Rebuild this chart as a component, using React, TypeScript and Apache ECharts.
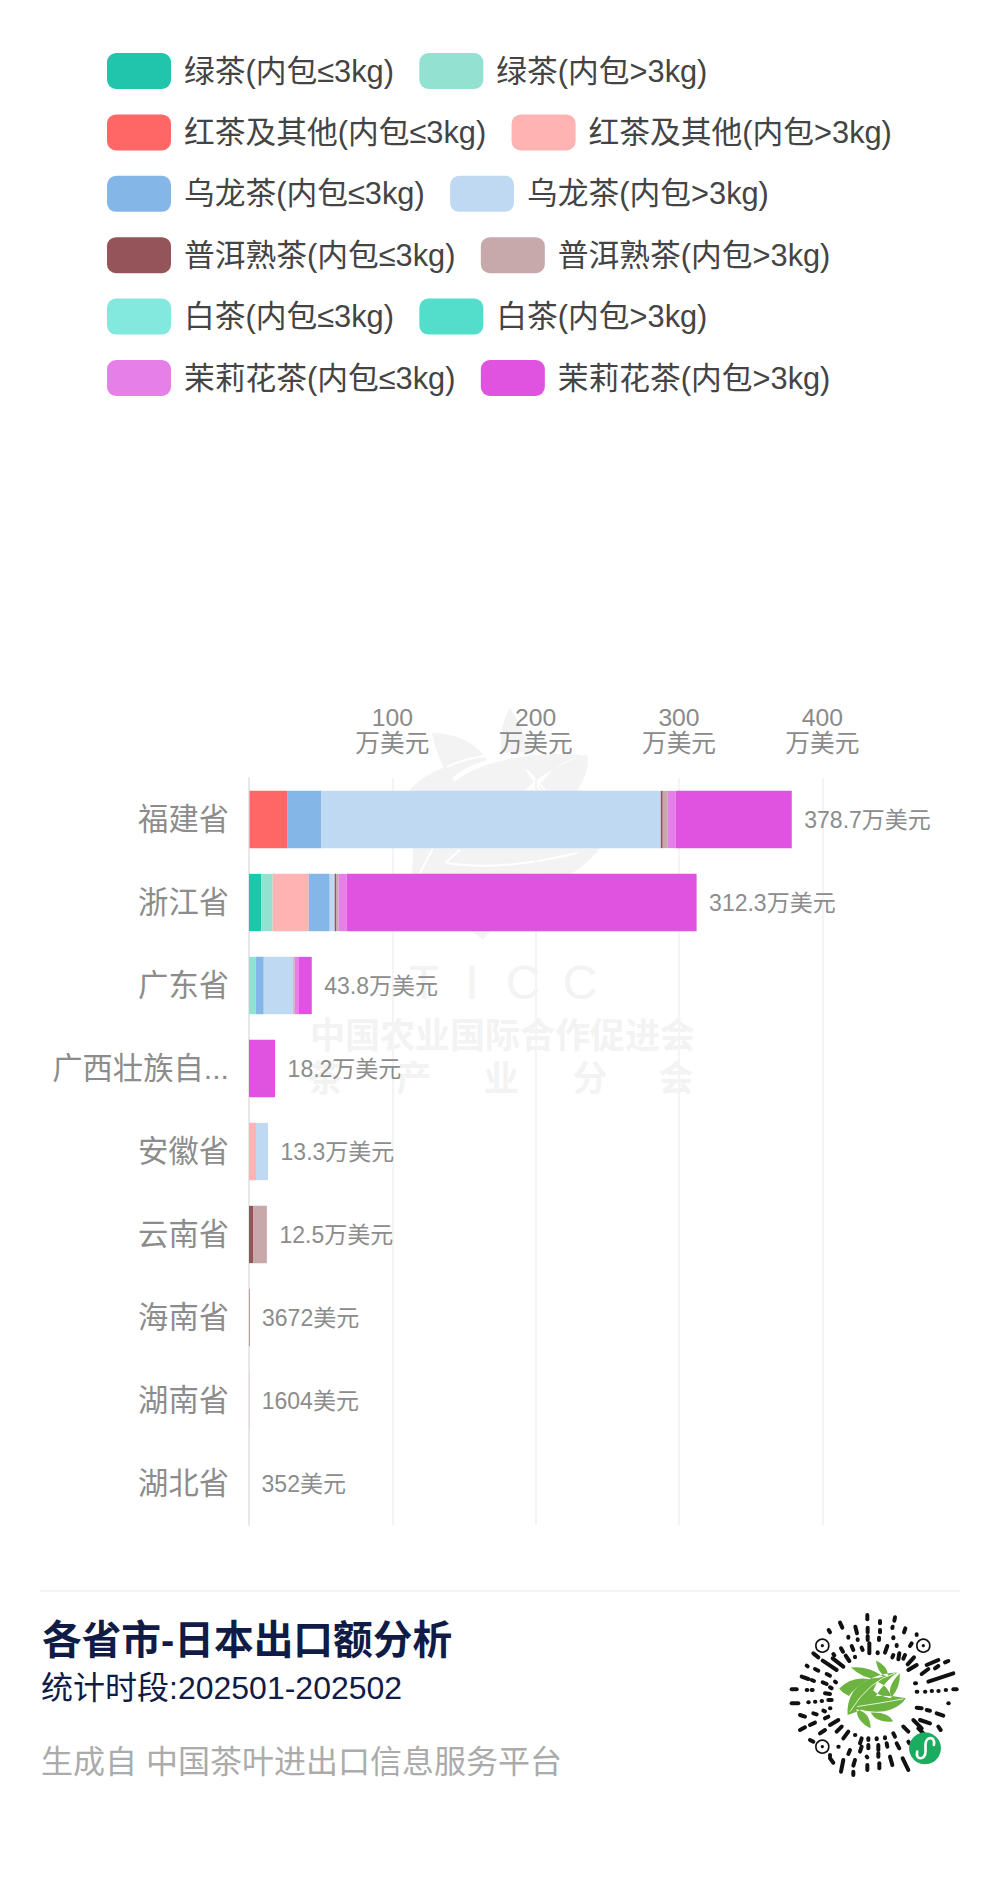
import React, { useEffect, useRef } from "react";
import * as echarts from "echarts";

const FONT = '"Liberation Sans", "Noto Sans CJK SC", sans-serif';

const provinces = ["福建省", "浙江省", "广东省", "广西壮族自治区", "安徽省", "云南省", "海南省", "湖南省", "湖北省"];
const totalLabels = ["378.7万美元", "312.3万美元", "43.8万美元", "18.2万美元", "13.3万美元", "12.5万美元", "3672美元", "1604美元", "352美元"];
const xTicks = [0, 100, 200, 300, 400];

const seriesNames = [
  "绿茶(内包≤3kg)", "绿茶(内包>3kg)",
  "红茶及其他(内包≤3kg)", "红茶及其他(内包>3kg)",
  "乌龙茶(内包≤3kg)", "乌龙茶(内包>3kg)",
  "普洱熟茶(内包≤3kg)", "普洱熟茶(内包>3kg)",
  "白茶(内包≤3kg)", "白茶(内包>3kg)",
  "茉莉花茶(内包≤3kg)", "茉莉花茶(内包>3kg)",
];
const seriesColors = [
  "#21c5ab", "#93e2d1", "#ff6666", "#ffb3b3", "#85b6e8", "#c0d9f2",
  "#94545a", "#c8a9ab", "#83e8de", "#52decb", "#e680e8", "#e053e0",
];

const greenSmall = [0, 8.6, 0, 0, 0, 0, 0, 0, 0];
const greenLarge = [0.5, 7.9, 4.7, 0, 0, 0, 0, 0, 0];
const redSmall = [26.5, 0, 0, 0, 0, 0, 0, 0, 0];
const redLarge = [0, 25.2, 0, 0, 4.9, 0, 0, 0, 0];
const oolongSmall = [23.5, 14.6, 5.6, 0, 0, 0, 0, 0, 0];
const oolongLarge = [236.8, 3.5, 20.6, 0, 8.4, 0, 0, 0, 0];
const puerSmall = [1.4, 0.9, 0, 0, 0, 2.8, 0.3672, 0, 0];
const puerLarge = [3.5, 1.9, 1.0, 0, 0, 9.7, 0, 0.1604, 0.0352];
const whiteSmall = [0, 0, 0, 0, 0, 0, 0, 0, 0];
const whiteLarge = [0, 0, 0, 0, 0, 0, 0, 0, 0];
const jasmineSmall = [5.6, 5.6, 3.0, 0, 0, 0, 0, 0, 0];
const jasmineLarge = [80.9, 244.1, 8.9, 18.2, 0, 0, 0, 0, 0];
const seriesValues = [
  greenSmall, greenLarge, redSmall, redLarge, oolongSmall, oolongLarge,
  puerSmall, puerLarge, whiteSmall, whiteLarge, jasmineSmall, jasmineLarge,
];
const totalsCarrier = [0, 0, 0, 0, 0, 0, 0, 0, 0];

const watermarkBody =
  "M510,708 C500,725 499,745 503,756 C520,752 527,752 530,752 C525,735 518,720 510,708Z " +
  "M432,733 C458,733 478,745 487,760 C470,765 458,772 450,780 C442,765 435,750 432,733Z " +
  "M408,792 C420,778 435,770 447,767 C450,772 452,778 455,783 L445,792Z " +
  "M445,790 C470,765 510,752 585,754 C560,765 540,775 525,790Z " +
  "M587,755 C575,757 555,765 548,775 L535,790 L577,790 C585,780 590,765 587,755Z " +
  "M412,874 L416,790 L580,790 L600,848 C595,855 580,870 570,874 L490,931 L483,940 L472,931Z";
const watermarkVeins =
  "M420,873 L433,848 M445,863 L460,850 M447,863 C490,870 540,862 577,853 " +
  "M447,767 C470,755 510,750 585,754 M540,790 L527,770 L545,790";
echarts.graphic.registerShape("wmBody", echarts.graphic.extendPath(watermarkBody, {}));
echarts.graphic.registerShape("wmVeins", echarts.graphic.extendPath(watermarkVeins, {}));

const qrLeaves =
  "M213,203 Q265,198 310,230 Q262,248 213,203Z " +
  "M288,182 Q325,198 325,230 Q296,228 288,182Z " +
  "M352,218 Q268,222 220,275 Q200,308 203,345 Q258,330 288,288 Q318,242 352,218Z " +
  "M178,266 Q215,228 268,238 Q225,262 207,288 Q188,280 178,266Z " +
  "M360,220 Q362,262 335,292 Q318,262 360,220Z " +
  "M292,245 Q330,262 334,295 Q298,290 280,272Z " +
  "M378,295 Q300,280 252,296 Q232,310 226,324 Q290,345 335,328 Q365,316 378,295Z " +
  "M230,328 Q272,338 272,385 Q230,365 230,328Z " +
  "M272,338 Q325,335 340,364 Q292,372 272,338Z";
const qrVeins = "M345,220 Q270,240 210,335 M370,297 Q300,310 232,320";
const qrMark = "M412,455 C405,482 437,482 437,455 L437,435 C437,408 468,408 462,435";
echarts.graphic.registerShape("qrLeaves", echarts.graphic.extendPath(qrLeaves, {}));
echarts.graphic.registerShape("qrVeins", echarts.graphic.extendPath(qrVeins, {}));
echarts.graphic.registerShape("qrMark", echarts.graphic.extendPath(qrMark, {}));

// Dashes of the mini-program code, in a 570-wide local frame.
const qrDashes = [
  [262,45,262,58],[345,52,343,62],[180,68,187,83],[300,63,300,70],[146,90,150,97],[226,80,231,100],
  [263,83,263,97],[338,80,337,84],[376,85,372,97],[300,90,300,97],[410,103,410,105],[205,110,205,113],
  [233,118,233,120],[263,108,263,120],[297,113,297,120],[340,112,340,115],[395,130,390,138],[350,135,350,138],
  [183,145,189,155],[215,138,220,150],[268,130,268,160],[322,138,315,158],[245,143,248,150],[100,160,115,172],
  [160,162,163,166],[375,165,370,176],[340,165,337,172],[293,157,293,160],[225,170,225,172],[197,167,208,183],
  [128,182,170,210],[158,175,190,200],[402,172,383,193],[358,160,355,178],[440,195,475,180],[495,187,505,183],
  [385,210,410,195],[425,222,445,207],[445,245,520,220],[465,205,475,198],[80,197,83,199],[105,207,115,212],
  [140,222,150,227],[65,230,85,237],[95,240,102,243],[128,247,140,252],[165,245,168,247],[150,262,155,265],
  [35,268,50,268],[80,270,82,270],[95,270,98,270],[135,280,150,282],[405,250,408,250],[410,275,412,275],
  [435,275,436,275],[455,273,456,273],[475,273,476,273],[497,270,498,270],[520,268,530,268],[35,310,55,310],
  [85,307,86,307],[105,305,106,305],[125,303,126,303],[145,300,155,300],[410,323,425,325],[440,330,450,332],
  [470,340,490,347],[505,310,506,310],[420,360,450,370],[60,345,75,350],[100,340,110,343],[130,332,135,334],
  [150,325,151,325],[135,355,145,350],[60,390,75,382],[90,375,105,368],[120,400,135,390],[150,375,175,360],
  [170,395,185,380],[190,415,205,395],[225,405,226,405],[245,415,240,430],[265,415,265,420],[290,415,290,418],
  [315,412,315,415],[340,400,345,410],[370,380,385,395],[400,360,425,385],[90,420,100,425],[175,440,176,440],
  [210,450,205,462],[245,440,240,455],[265,435,265,445],[295,435,295,450],[320,430,322,440],[350,430,358,445],
  [385,425,388,430],[150,475,160,488],[190,480,183,515],[225,480,220,497],[260,470,262,472],[262,495,262,510],
  [298,490,298,505],[330,470,337,495],[368,475,385,510],[220,515,220,525],[475,380,482,390],[415,385,430,400],
  [295,460,295,470],[150,465,150,468],
];
const qrFinders = [[127,137],[430,137],[127,440]];
const toQrX = (v: number) => 780 + v / 3;
const toQrY = (v: number) => 1600 + v / 3;

const watermarkMid = ["中", "国", "农", "业", "国", "际", "合", "作", "促", "进", "会"];
const watermarkLow = [["茶", 325], ["产", 414], ["业", 501], ["分", 590], ["会", 676]] as [string, number][];
const watermarkLetters = [["T", 424], ["I", 472], ["C", 523], ["C", 580]] as [string, number][];

function txt(text: string, x: number, y: number, font: string, fill: string, extra: any = {}) {
  return {
    type: "text",
    z: extra.z ?? 5,
    style: { text, x, y, font, fill, align: extra.align ?? "left", verticalAlign: "middle", textAlign: extra.align ?? "left", textVerticalAlign: "middle" },
  };
}

function buildGraphic() {
  const g: any[] = [];
  const wm = "#f3f3f3";
  g.push({ type: "wmBody", x: 0, y: 0, z: -10, style: { fill: wm } });
  g.push({ type: "wmVeins", x: 0, y: 0, z: -9, style: { fill: "none", stroke: "#ffffff", lineWidth: 2 } });
  watermarkLetters.forEach(([c, x]) => g.push(txt(c, x, 982, `300 48px ${FONT}`, wm, { align: "center", z: -10 })));
  watermarkMid.forEach((c, i) => g.push(txt(c, 327.5 + i * 35, 1035, `bold 35px ${FONT}`, wm, { align: "center", z: -10 })));
  watermarkLow.forEach(([c, x]) => g.push(txt(c, x, 1078, `bold 35px ${FONT}`, wm, { align: "center", z: -10 })));

  g.push({ type: "line", z: 5, shape: { x1: 40, y1: 1591, x2: 960, y2: 1591 }, style: { stroke: "#f3f3f3", lineWidth: 2 } });
  g.push(txt("各省市-日本出口额分析", 42, 1640, `bold 39.7px ${FONT}`, "#101c45"));
  g.push(txt("统计时段:202501-202502", 41, 1688, `32px ${FONT}`, "#101c45"));
  g.push(txt("生成自 中国茶叶进出口信息服务平台", 41, 1762, `32px ${FONT}`, "#ababab"));

  qrDashes.forEach(([a, b, c, d]) =>
    g.push({
      type: "line", z: 5,
      shape: { x1: toQrX(a), y1: toQrY(b), x2: toQrX(c), y2: toQrY(d) },
      style: { stroke: "#111111", lineWidth: 4, lineCap: "round" },
    })
  );
  qrFinders.forEach(([a, b]) => {
    g.push({ type: "circle", z: 5, shape: { cx: toQrX(a), cy: toQrY(b), r: 6.5 }, style: { fill: "none", stroke: "#111111", lineWidth: 1.6 } });
    g.push({ type: "circle", z: 5, shape: { cx: toQrX(a), cy: toQrY(b), r: 1.6 }, style: { fill: "#111111" } });
  });
  const qrT = { x: 780, y: 1600, scaleX: 1 / 3, scaleY: 1 / 3, z: 5 };
  g.push({ type: "qrLeaves", ...qrT, style: { fill: "#6cb33f" } });
  g.push({ type: "qrVeins", ...qrT, z: 6, style: { fill: "none", stroke: "#e4f2d8", lineWidth: 3 } });
  g.push({ type: "circle", z: 5, shape: { cx: toQrX(435), cy: toQrY(445), r: 16 }, style: { fill: "#1aad5f" } });
  g.push({ type: "qrMark", ...qrT, z: 6, style: { fill: "none", stroke: "#ffffff", lineWidth: 8, lineCap: "round" } });
  return g;
}

export default function App() {
  const ref = useRef<HTMLDivElement>(null);
  useEffect(() => {
    document.body.style.margin = "0";
    const chart = echarts.init(ref.current!, undefined, { renderer: "svg" });
    const barSeries = seriesNames.map((name, i) => ({
      name,
      type: "bar",
      stack: "total",
      barWidth: 57.3,
      data: seriesValues[i],
      itemStyle: { color: seriesColors[i] },
      emphasis: { disabled: true },
    }));
    chart.setOption({
      animation: false,
      backgroundColor: "#ffffff",
      textStyle: { fontFamily: FONT },
      legend: {
        left: 107,
        top: 53,
        width: 840,
        padding: 0,
        data: seriesNames,
        icon: "roundRect",
        itemWidth: 64,
        itemHeight: 36,
        itemGap: 25.4,
        selectedMode: false,
        textStyle: { fontSize: 30.75, color: "#444444", fontFamily: FONT, padding: [0, 3.8, 0, 8] },
      },
      grid: { left: 249, top: 778, width: 573.3, height: 747, containLabel: false },
      xAxis: {
        type: "value",
        position: "top",
        min: 0,
        max: 400,
        interval: 100,
        axisLine: { show: false },
        axisTick: { show: false },
        splitLine: { show: true, lineStyle: { color: "#f4f4f4", width: 2 } },
        axisLabel: {
          margin: 22,
          fontSize: 24.7,
          lineHeight: 26,
          color: "#8a8a8a",
          fontFamily: FONT,
          customValues: xTicks,
          formatter: (v: number) => (v === 0 ? "" : `${v}\n万美元`),
        },
      },
      yAxis: {
        type: "category",
        inverse: true,
        data: provinces,
        axisLine: { show: true, lineStyle: { color: "#e8e8e8", width: 2 } },
        axisTick: { show: false },
        axisLabel: {
          margin: 20,
          fontSize: 30.3,
          color: "#8c8c8c",
          fontFamily: FONT,
          width: 184,
          overflow: "truncate",
          ellipsis: "...",
        },
      },
      series: [
        ...barSeries,
        {
          name: "合计",
          type: "bar",
          stack: "total",
          barWidth: 57.3,
          data: totalsCarrier,
          itemStyle: { color: "transparent" },
          emphasis: { disabled: true },
          label: {
            show: true,
            position: "right",
            distance: 12.5,
            fontSize: 23,
            color: "#8c8c8c",
            fontFamily: FONT,
            formatter: (p: any) => totalLabels[p.dataIndex],
          },
        },
      ],
      graphic: { elements: buildGraphic() },
    });
    return () => chart.dispose();
  }, []);
  return <div ref={ref} style={{ width: 1000, height: 1898 }} />;
}
